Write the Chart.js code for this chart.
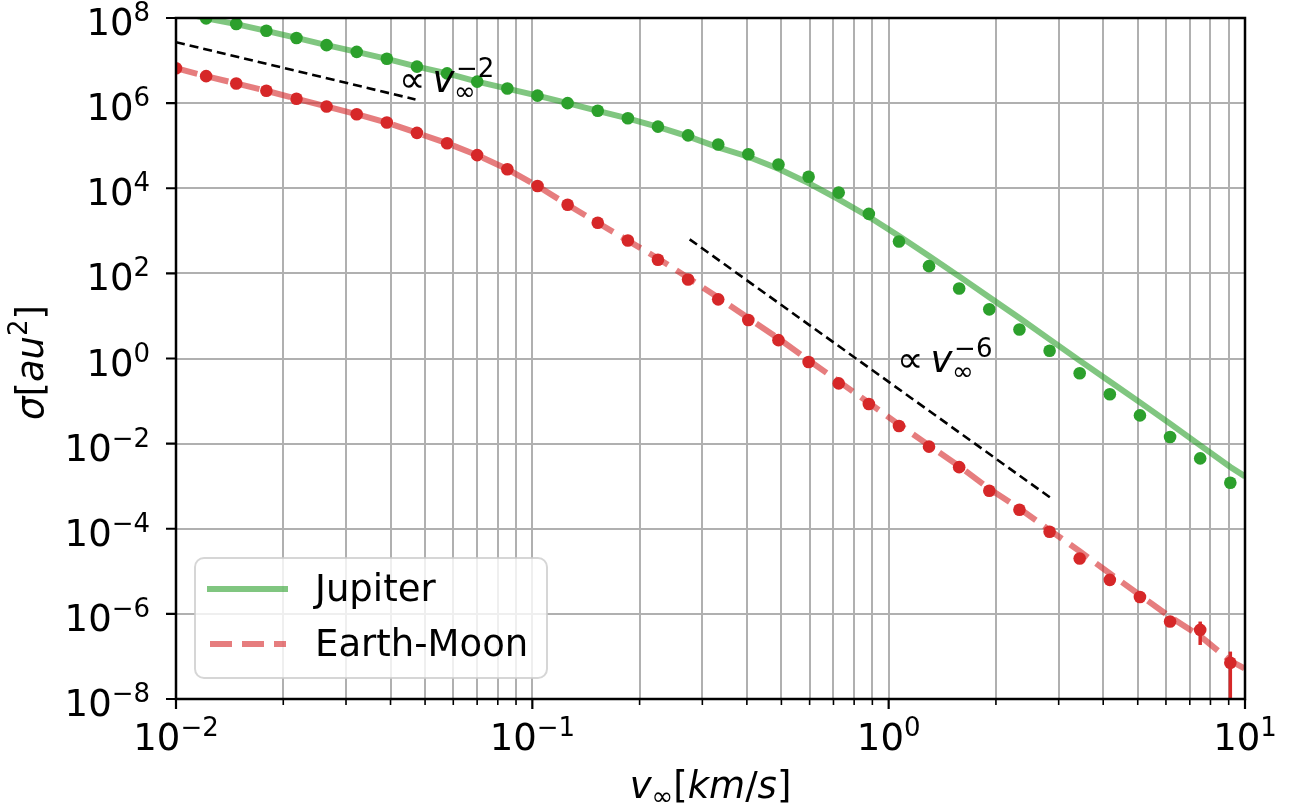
<!DOCTYPE html>
<html>
<head>
<meta charset="utf-8">
<title>Capture cross section</title>
<script src="https://cdn.jsdelivr.net/npm/chart.js@4.4.1/dist/chart.umd.min.js"></script>
<style>
    html, body { margin: 0; padding: 0; background: #fff; }
    #wrap { width: 1293px; height: 809px; }
</style>
</head>
<body>
<div id="wrap"><canvas id="sigma-chart" width="1293" height="809"></canvas></div>
<script>
// v_inf sample points [km/s]
const vInf = [0.01, 0.01215, 0.01476, 0.01793, 0.02178, 0.02646, 0.03215, 0.03906, 0.04745, 0.05765,
    0.07004, 0.08509, 0.1034, 0.1256, 0.1526, 0.1854, 0.2252, 0.2736, 0.3324, 0.4038,
    0.4906, 0.5961, 0.7241, 0.8798, 1.069, 1.298, 1.577, 1.916, 2.328, 2.829,
    3.436, 4.175, 5.072, 6.162, 7.486, 9.095];

// simulated cross sections [au^2]
const jupiterSim = [1.48e8, 9.8e7, 7.2e7, 5.0e7, 3.4e7, 2.3e7, 1.6e7, 1.1e7, 7.2e6, 5.0e6,
    3.2e6, 2.2e6, 1.5e6, 1.0e6, 6.6e5, 4.4e5, 2.8e5, 1.75e5, 1.07e5, 6.3e4,
    3.6e4, 1.86e4, 7.9e3, 2.5e3, 560, 148, 44, 14.3, 4.8, 1.52,
    0.45, 0.145, 0.046, 0.0143, 0.0045, 0.0012];
const earthMoonSim = [6.6e6, 4.3e6, 2.9e6, 1.95e6, 1.27e6, 8.3e5, 5.5e5, 3.5e5, 2.0e5, 1.14e5,
    6.0e4, 2.8e4, 1.13e4, 4.1e3, 1.55e3, 590, 209, 72, 24.5, 8.0,
    2.7, 0.83, 0.26, 0.085, 0.026, 0.0085, 0.0028, 7.8e-4, 2.8e-4, 8.5e-5,
    2.0e-5, 6.3e-6, 2.5e-6, 6.6e-7, 4.2e-7, 7.1e-8];

// analytic curves
const fitV = [0.01, 0.01215, 0.01476, 0.01793, 0.02178, 0.02646, 0.03215, 0.03906, 0.04745, 0.05765,
    0.07004, 0.08509, 0.1034, 0.1256, 0.1526, 0.1854, 0.2252, 0.2736, 0.3324, 0.4038,
    0.4906, 0.5961, 0.7241, 0.8798, 1.069, 1.298, 1.577, 1.916, 2.328, 2.829,
    3.436, 4.175, 5.072, 6.162, 7.486, 9.095, 10];
const jupiterFit = [1.48e8, 9.8e7, 7.2e7, 5.0e7, 3.4e7, 2.3e7, 1.6e7, 1.1e7, 7.2e6, 5.0e6,
    3.2e6, 2.2e6, 1.5e6, 1.0e6, 6.6e5, 4.4e5, 2.75e5, 1.66e5, 9.1e4, 5.5e4,
    2.88e4, 1.32e4, 5.5e3, 2.14e3, 759, 257, 85, 27.5, 8.9, 2.82,
    0.89, 0.288, 0.093, 0.0295, 0.0091, 0.00282, 0.0017];
const earthMoonFit = [6.6e6, 4.3e6, 2.9e6, 1.95e6, 1.27e6, 8.3e5, 5.5e5, 3.5e5, 2.0e5, 1.14e5,
    6.0e4, 2.8e4, 1.13e4, 4.1e3, 1.55e3, 590, 224, 79, 27, 8.9,
    2.95, 0.91, 0.29, 0.091, 0.028, 0.0091, 0.00295, 8.7e-4, 3.0e-4, 9.3e-5,
    2.95e-5, 8.9e-6, 2.75e-6, 8.5e-7, 3.0e-7, 7.9e-8, 5.2e-8];

// error bars on the last Earth-Moon points
const errV = [7.486, 9.095];
const errLow = [1.86e-7, 1e-9];
const errHigh = [6.6e-7, 1.3e-7];

// power-law guides
const slope2V = [0.01, 0.047];
const slope2Sigma = [2.7e7, 1.22e6];
const slope6V = [0.2764, 2.84];
const slope6Sigma = [631, 5.4e-4];

// axis ticks (exponents of ten) and minor x ticks
const xExp = [-2, -1, 0, 1];
const yExp = [-8, -6, -4, -2, 0, 2, 4, 6, 8];
const xMinor = [0.02, 0.03, 0.04, 0.05, 0.06, 0.07, 0.08, 0.09,
    0.2, 0.3, 0.4, 0.5, 0.6, 0.7, 0.8, 0.9,
    2, 3, 4, 5, 6, 7, 8, 9];

const legendLabels = ["Jupiter", "Earth-Moon"];

document.addEventListener("DOMContentLoaded", () => {
    const ctx = document.getElementById("sigma-chart").getContext("2d");
    const FONT = "'DejaVu Sans', 'Liberation Sans', sans-serif";
    const GREEN = "#2ca02c";
    const RED = "#d62728";
    const GREEN_A = "rgba(44,160,44,0.6)";
    const RED_A = "rgba(214,39,40,0.6)";
    const BIG = 37;
    const SMALL = 26;

    const toXY = (xs, ys) => xs.map((x, i) => ({ x: x, y: ys[i] }));
    const fontOf = (size, italic) => (italic ? "italic " : "") + size + "px " + FONT;
    const expText = e => e < 0 ? "\u2212" + Math.abs(e) : String(e);

    function runsWidth(c, runs) {
        let w = 0;
        runs.forEach(r => { c.font = fontOf(r.size, r.italic); w += c.measureText(r.text).width; });
        return w;
    }
    function drawRuns(c, runs, x, y) {
        let cx = x;
        runs.forEach(r => {
            c.font = fontOf(r.size, r.italic);
            c.fillText(r.text, cx, y + (r.dy || 0));
            cx += c.measureText(r.text).width;
        });
    }
    function powerRuns(e) {
        return [{ text: "10", size: BIG }, { text: expText(e), size: SMALL, dy: -14 }];
    }

    const errorBars = errV.map((v, i) => ({
        data: [{ x: v, y: errLow[i] }, { x: v, y: errHigh[i] }],
        showLine: true, borderColor: RED, borderWidth: 3.5, pointRadius: 0, order: 0, clip: 0
    }));

    const decor = {
        id: "decor",
        beforeDraw(chart) {
            const c = chart.ctx;
            c.save();
            c.fillStyle = "#fff";
            c.fillRect(0, 0, chart.width, chart.height);
            c.restore();
        },
        afterDatasetsDraw(chart) {
            const c = chart.ctx;
            const a = chart.chartArea;
            const xs = chart.scales.x;
            const ys = chart.scales.y;
            c.save();
            c.fillStyle = "#000";
            c.strokeStyle = "#000";
            c.textBaseline = "alphabetic";
            c.textAlign = "left";

            // frame
            c.lineWidth = 2.5;
            c.strokeRect(a.left, a.top, a.right - a.left, a.bottom - a.top);

            // tick marks
            c.lineWidth = 2.2;
            c.beginPath();
            xExp.forEach(e => {
                const px = xs.getPixelForValue(Math.pow(10, e));
                c.moveTo(px, a.bottom); c.lineTo(px, a.bottom + 10);
            });
            yExp.forEach(e => {
                const py = ys.getPixelForValue(Math.pow(10, e));
                c.moveTo(a.left, py); c.lineTo(a.left - 10, py);
            });
            c.stroke();
            c.lineWidth = 1.6;
            c.beginPath();
            xMinor.forEach(v => {
                const px = xs.getPixelForValue(v);
                c.moveTo(px, a.bottom); c.lineTo(px, a.bottom + 6);
            });
            c.stroke();

            // tick labels
            xExp.forEach(e => {
                const runs = powerRuns(e);
                const w = runsWidth(c, runs);
                drawRuns(c, runs, xs.getPixelForValue(Math.pow(10, e)) - w / 2, a.bottom + 51);
            });
            yExp.forEach(e => {
                const runs = powerRuns(e);
                const w = runsWidth(c, runs);
                drawRuns(c, runs, a.left - 26 - w, ys.getPixelForValue(Math.pow(10, e)) + 17);
            });

            // axis titles
            const xTitle = [
                { text: "v", size: BIG, italic: true },
                { text: "\u221e", size: SMALL, dy: 7 },
                { text: "[", size: BIG },
                { text: "km", size: BIG, italic: true },
                { text: "/", size: BIG },
                { text: "s", size: BIG, italic: true },
                { text: "]", size: BIG }
            ];
            const xw = runsWidth(c, xTitle);
            drawRuns(c, xTitle, (a.left + a.right) / 2 - xw / 2, a.bottom + 99);

            const yTitle = [
                { text: "\u03c3", size: BIG, italic: true },
                { text: "[", size: BIG },
                { text: "au", size: BIG, italic: true },
                { text: "2", size: SMALL, dy: -16 },
                { text: "]", size: BIG }
            ];
            const yw = runsWidth(c, yTitle);
            c.save();
            c.translate(a.left - 133, (a.top + a.bottom) / 2 + 4 + yw / 2);
            c.rotate(-Math.PI / 2);
            drawRuns(c, yTitle, 0, 0);
            c.restore();

            // power-law annotations
            [[0.04226, 1.82e6, -2], [1.056, 0.481, -6]].forEach(([v, s, e]) => {
                const ax = xs.getPixelForValue(v);
                const ay = ys.getPixelForValue(s);
                c.font = fontOf(BIG, false);
                c.fillText("\u221d", ax, ay);
                c.font = fontOf(BIG, true);
                c.fillText("v", ax + 33.5, ay);
                c.font = fontOf(SMALL, false);
                c.fillText("\u221e", ax + 55, ay + 8);
                c.fillText(expText(e), ax + 57, ay - 15);
            });

            // legend
            const lx = a.left + 19;
            const ly = a.bottom - 141;
            c.beginPath();
            c.roundRect(lx, ly, 352, 120, 9);
            c.fillStyle = "rgba(255,255,255,0.8)";
            c.fill();
            c.lineWidth = 2;
            c.strokeStyle = "rgba(204,204,204,0.8)";
            c.stroke();

            c.lineWidth = 6;
            c.lineCap = "butt";
            c.strokeStyle = GREEN_A;
            c.beginPath();
            c.moveTo(lx + 12, ly + 31); c.lineTo(lx + 93, ly + 31);
            c.stroke();
            c.strokeStyle = RED_A;
            c.setLineDash([22, 10]);
            c.beginPath();
            c.moveTo(lx + 15, ly + 86); c.lineTo(lx + 91, ly + 86);
            c.stroke();
            c.setLineDash([]);

            c.fillStyle = "#000";
            c.font = fontOf(BIG, false);
            c.fillText(legendLabels[0], lx + 120, ly + 43);
            c.fillText(legendLabels[1], lx + 120, ly + 98);

            c.restore();
        }
    };

    new Chart(ctx, {
        type: "scatter",
        data: {
            datasets: [
                { label: legendLabels[0], data: toXY(fitV, jupiterFit), showLine: true,
                  borderColor: GREEN_A, borderWidth: 6, pointRadius: 0, order: 3, clip: 0 },
                { label: legendLabels[1], data: toXY(fitV, earthMoonFit), showLine: true,
                  borderColor: RED_A, borderWidth: 6, borderDash: [22, 10], pointRadius: 0, order: 3, clip: 0 },
                { data: toXY(slope2V, slope2Sigma), showLine: true, borderColor: "#000",
                  borderWidth: 2.6, borderDash: [9, 5], pointRadius: 0, order: 2, clip: 0 },
                { data: toXY(slope6V, slope6Sigma), showLine: true, borderColor: "#000",
                  borderWidth: 2.6, borderDash: [9, 5], pointRadius: 0, order: 2, clip: 0 },
                { data: toXY(vInf, jupiterSim), pointRadius: 6.3, pointBorderWidth: 0,
                  backgroundColor: GREEN, order: 1, clip: 0 },
                { data: toXY(vInf, earthMoonSim), pointRadius: 6.3, pointBorderWidth: 0,
                  backgroundColor: RED, order: 1, clip: 0 },
                ...errorBars
            ]
        },
        options: {
            responsive: false,
            animation: false,
            events: [],
            layout: { padding: { left: 176, top: 18, right: 48, bottom: 110 } },
            plugins: { legend: { display: false }, tooltip: { enabled: false } },
            scales: {
                x: {
                    type: "logarithmic", min: 0.01, max: 10,
                    afterBuildTicks: scale => {
                        scale.ticks = xExp.map(e => Math.pow(10, e)).concat(xMinor)
                            .sort((p, q) => p - q).map(v => ({ value: v }));
                    },
                    ticks: { display: false },
                    border: { display: false },
                    grid: { color: "#b0b0b0", lineWidth: 2, drawTicks: false }
                },
                y: {
                    type: "logarithmic", min: 1e-8, max: 1e8,
                    afterBuildTicks: scale => {
                        scale.ticks = yExp.map(e => ({ value: Math.pow(10, e) }));
                    },
                    ticks: { display: false },
                    border: { display: false },
                    grid: { color: "#b0b0b0", lineWidth: 2, drawTicks: false }
                }
            }
        },
        plugins: [decor]
    });
});
</script>
</body>
</html>
